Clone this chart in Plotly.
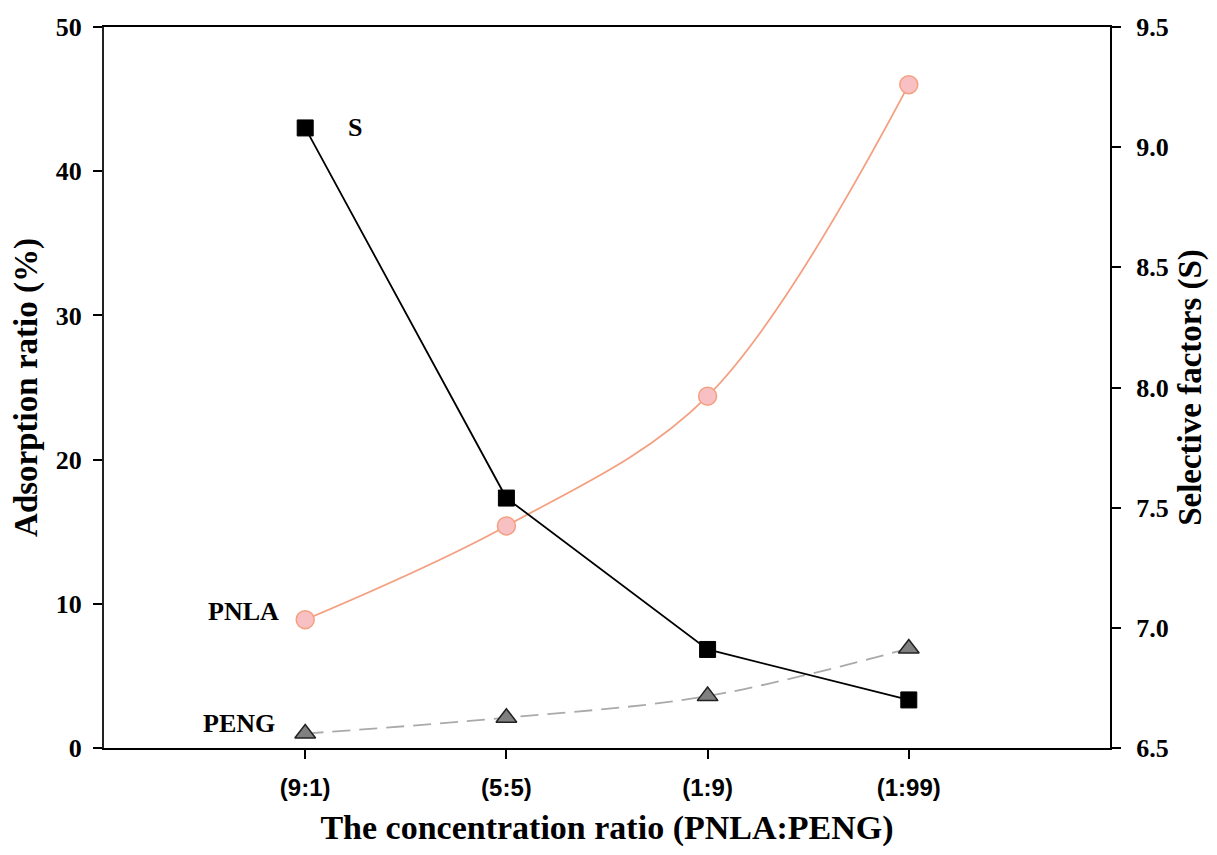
import plotly.graph_objects as go

categories = ["(9:1)", "(5:5)", "(1:9)", "(1:99)"]
pnla = [8.9, 15.4, 24.4, 46.0]
peng = [1.0, 2.1, 3.6, 6.9]
s_factor = [9.08, 7.54, 6.91, 6.70]
xpos = list(range(len(categories)))

fig = go.Figure()
fig.add_trace(go.Scatter(
    x=xpos, y=pnla, mode="lines+markers", line=dict(color="#F4A080", width=1.8, shape="spline"),
    marker=dict(symbol="circle", size=18, color="#F9C0C3", line=dict(color="#F4A080", width=1.5)),
    showlegend=False))
fig.add_trace(go.Scatter(
    x=xpos, y=peng, mode="lines+markers",
    line=dict(color="#AAAAAA", width=1.8, dash="18px,9px", shape="spline"),
    marker=dict(symbol="triangle-up", size=18, color="#808080", line=dict(color="#222222", width=1.5)),
    showlegend=False))
fig.add_trace(go.Scatter(
    x=xpos, y=s_factor, yaxis="y2", mode="lines+markers", line=dict(color="black", width=1.8),
    marker=dict(symbol="square", size=16, color="black", line=dict(color="black", width=1)),
    showlegend=False))

serif = "Liberation Serif"
fig.add_annotation(x=0, y=s_factor[0], yref="y2", text="<b>S</b>", showarrow=False,
                   xshift=50, font=dict(family=serif, size=26, color="black"))
fig.add_annotation(x=0, y=pnla[0], text="<b>PNLA</b>", showarrow=False,
                   xshift=-62, yshift=8, font=dict(family=serif, size=26, color="black"))
fig.add_annotation(x=0, y=peng[0], text="<b>PENG</b>", showarrow=False,
                   xshift=-66, yshift=10, font=dict(family=serif, size=26, color="black"))

fig.update_layout(
    width=1201, height=839,
    margin=dict(l=96, r=99, t=19, b=99, autoexpand=False),
    paper_bgcolor="white", plot_bgcolor="white",
    xaxis=dict(range=[-1, 4], tickvals=xpos, ticktext=["<b>%s</b>" % c for c in categories],
               automargin=False,
               showline=True, linecolor="black", linewidth=2, mirror=True,
               ticks="outside", ticklen=9, tickwidth=2, tickcolor="black",
               ticklabelstandoff=8,
               showgrid=False, zeroline=False,
               tickfont=dict(family="Liberation Sans", size=24, color="black"),
               title=dict(text="<b>The concentration ratio (PNLA:PENG)</b>", standoff=30,
                          font=dict(family=serif, size=34, color="black"))),
    yaxis=dict(range=[0, 50], dtick=10, showline=True, linecolor="#222222", linewidth=2,
               automargin=False,
               ticks="outside", ticklen=9, tickwidth=2, tickcolor="black",
               ticklabelstandoff=6,
               showgrid=False, zeroline=False,
               tickfont=dict(family=serif, size=26, color="black"),
               tickprefix="<b>", ticksuffix="</b>",
               title=dict(text="<b>Adsorption ratio (%)</b>", standoff=8,
                          font=dict(family=serif, size=33, color="black"))),
    yaxis2=dict(range=[6.5, 9.5], dtick=0.5, tickformat=".1f", overlaying="y", side="right",
                automargin=False,
                showline=True, linecolor="black", linewidth=2,
                ticks="outside", ticklen=9, tickwidth=2, tickcolor="black",
                ticklabelstandoff=10,
                showgrid=False, zeroline=False,
                tickfont=dict(family=serif, size=26, color="black"),
                tickprefix="<b>", ticksuffix="</b>",
                title=dict(text="<b>Selective factors (S)</b>", standoff=22,
                           font=dict(family=serif, size=33, color="black"))),
)
fig.write_html("out.html")
